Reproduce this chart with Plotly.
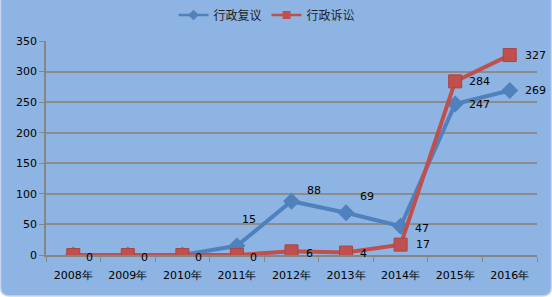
import plotly.graph_objects as go

years = ["2008年", "2009年", "2010年", "2011年", "2012年", "2013年", "2014年", "2015年", "2016年"]
fuyi = [0, 0, 0, 15, 88, 69, 47, 247, 269]       # 行政复议
susong = [0, 0, 0, 0, 6, 4, 17, 284, 327]        # 行政诉讼
yticks = [0, 50, 100, 150, 200, 250, 300, 350]

# label offsets (pixels) -- styling only
fuyi_dx = [12, 12, 12, 3, 13, 12, 12, 12, 13]
fuyi_dy = [0, 0, 0, 26, 11, 16, -2, -1, 0]
susong_dx = [11, 11, 11, 11, 12, 12, 13, 12, 13]
susong_dy = [-2, -2, -2, -2, -2, -1, 0, 0, 0]

W, H = 552, 297
L, R, T, B = 46, 15, 41, 42
PW, PH = W - L - R, H - T - B

def px(x):
    return (x - L) / PW

def py(y):
    return (H - B - y) / PH

BLUE = "#4F81BD"
RED = "#C0504D"

fig = go.Figure()
fig.add_trace(go.Scatter(
    x=years, y=fuyi, name="行政复议", mode="lines+markers", showlegend=False,
    line=dict(color=BLUE, width=4),
    marker=dict(symbol="diamond", size=13, color=BLUE),
))
fig.add_trace(go.Scatter(
    x=years, y=susong, name="行政诉讼", mode="lines+markers", showlegend=False,
    line=dict(color=RED, width=4),
    marker=dict(symbol="square", size=13, color=RED, line=dict(color="#A84542", width=1)),
))
# legend entries with small symbols
fig.add_trace(go.Scatter(
    x=[None], y=[None], name="行政复议", mode="lines+markers",
    line=dict(color=BLUE, width=2.5),
    marker=dict(symbol="diamond", size=8, color=BLUE),
))
fig.add_trace(go.Scatter(
    x=[None], y=[None], name="行政诉讼", mode="lines+markers",
    line=dict(color=RED, width=2.5),
    marker=dict(symbol="square", size=8, color=RED),
))

annos = []
for i, v in enumerate(fuyi):
    if v == 0:
        continue
    annos.append(dict(x=years[i], y=v, text=str(v), showarrow=False, xanchor="left",
                      yanchor="middle", xshift=fuyi_dx[i], yshift=fuyi_dy[i],
                      font=dict(family="DejaVu Sans", size=11, color="#000000")))
for i, v in enumerate(susong):
    annos.append(dict(x=years[i], y=v, text=str(v), showarrow=False, xanchor="left",
                      yanchor="middle", xshift=susong_dx[i], yshift=susong_dy[i],
                      font=dict(family="DejaVu Sans", size=11, color="#000000")))

r = 9
x0, x1 = px(0.5), px(551.5)
y0, y1 = py(-3), py(296)
rx, ry = r / PW, r / PH
path = (f"M {x0},{y0} L {x1},{y0} L {x1},{y1 + ry} Q {x1},{y1} {x1 - rx},{y1} "
        f"L {x0 + rx},{y1} Q {x0},{y1} {x0},{y1 + ry} Z")

fig.update_layout(
    width=W, height=H,
    margin=dict(l=L, r=R, t=T, b=B, autoexpand=False),
    paper_bgcolor="#FFFFFF",
    plot_bgcolor="#F2F2F2",
    font=dict(family="DejaVu Sans", size=11, color="#000000"),
    showlegend=True,
    legend=dict(orientation="h", x=px(267), y=py(15), xanchor="center", yanchor="middle",
                font=dict(family="Noto Sans CJK SC", size=12, color="#1F1F1F"),
                bgcolor="rgba(0,0,0,0)", itemwidth=30, tracegroupgap=0),
    shapes=[dict(type="path", xref="paper", yref="paper", path=path, layer="below",
                 fillcolor="#8DB4E2", line=dict(color="#C5D7EE", width=1.5))],
    annotations=annos,
    xaxis=dict(type="category", range=[-0.5, 8.5], showgrid=False,
               showline=True, linecolor="#868686", linewidth=1.5,
               ticks="outside", tickson="boundaries", ticklen=5, tickcolor="#868686",
               ticklabelstandoff=9,
               tickfont=dict(family="DejaVu Sans", size=11, color="#000000"),
               zeroline=False, fixedrange=True),
    yaxis=dict(range=[0, 350], tickvals=yticks, showgrid=True, gridcolor="#8C8C8C",
               gridwidth=1.5, showline=True, linecolor="#868686", linewidth=1.5,
               ticks="outside", ticklen=5, tickcolor="#868686",
               tickfont=dict(family="DejaVu Sans", size=11, color="#000000"),
               zeroline=False, fixedrange=True),
)

fig.write_html("out.html")
